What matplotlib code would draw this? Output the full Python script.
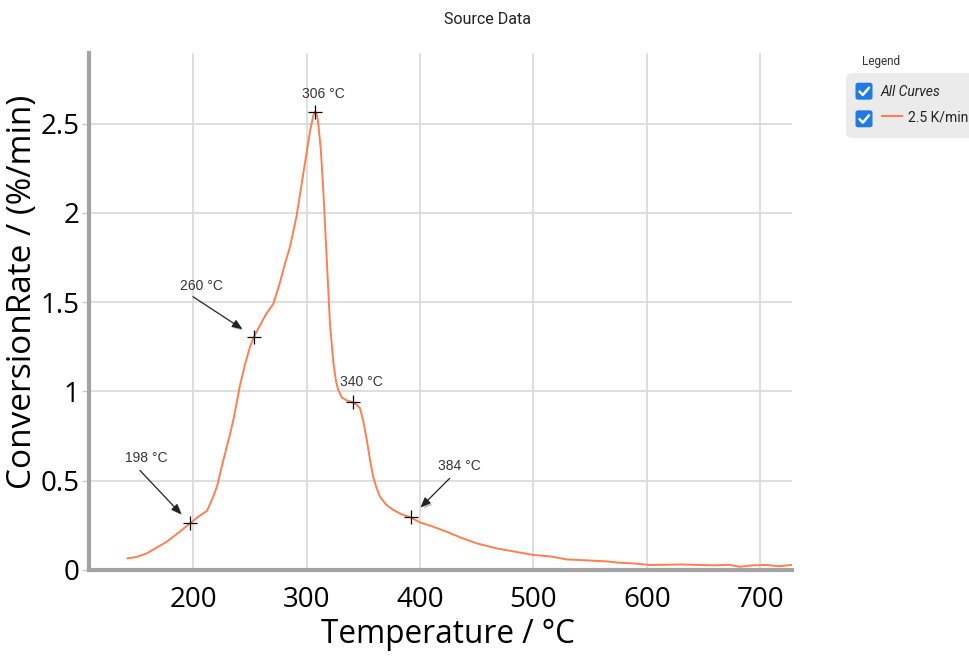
import matplotlib
matplotlib.use('Agg')
import matplotlib.pyplot as plt
import matplotlib.patheffects as pe
from matplotlib.patches import FancyBboxPatch
from matplotlib.lines import Line2D

# curve
temp = [142, 150, 159, 165, 176.5, 188, 197, 205, 212, 217, 221, 226.5, 232.4, 236, 241, 246, 250, 253.5,
        258, 264, 270.5, 276, 281, 285.3, 291, 297, 303, 306, 307.3, 309, 310.2, 312.5, 314.6, 317.6,
        320.5, 323.5, 326, 328, 331, 335, 341, 344, 347, 350, 353, 356, 358.7, 361.5, 364.6, 370, 376.4,
        384, 391.7, 400, 410, 423.5, 436, 450, 467.5, 485, 500, 515, 529, 540, 552.5, 565, 575, 587.8,
        602.5, 615, 630, 646.7, 660, 672, 682, 693, 705.6, 716, 727.7]
rate = [0.064, 0.072, 0.092, 0.115, 0.157, 0.213, 0.26, 0.30, 0.33, 0.40, 0.47, 0.615, 0.76, 0.86, 1.03,
        1.16, 1.25, 1.306, 1.36, 1.43, 1.49, 1.60, 1.72, 1.81, 1.98, 2.22, 2.46, 2.55, 2.566, 2.55, 2.50,
        2.35, 2.13, 1.75, 1.38, 1.16, 1.05, 1.005, 0.965, 0.95, 0.938, 0.925, 0.905, 0.83, 0.727, 0.61,
        0.52, 0.46, 0.41, 0.365, 0.335, 0.31, 0.294, 0.265, 0.245, 0.213, 0.18, 0.148, 0.12, 0.10, 0.083,
        0.075, 0.058, 0.055, 0.051, 0.047, 0.04, 0.036, 0.027, 0.028, 0.03, 0.027, 0.025, 0.028, 0.017,
        0.025, 0.027, 0.02, 0.027]

mark_t = [197, 253.5, 307.3, 341, 391.7]
mark_y = [0.26, 1.306, 2.566, 0.938, 0.294]
mark_labels = ['198 °C', '260 °C', '306 °C', '340 °C', '384 °C']
# text offset, arrow start offset (pixels), arrow end gap (points)
text_off = [(-44, 65), (-53, 51), (8, 18), (8, 20), (49, 51)]
arrow_off = [(-50, 53), (-61, 40), None, None, (39, 39)]
arrow_gap = [9, 10, 0, 0, 10]

xticks = [200, 300, 400, 500, 600, 700]
yticks = [0, 0.5, 1, 1.5, 2, 2.5]
ytick_labels = ['0', '0.5', '1', '1.5', '2', '2.5']

W, H = 969, 656
line_color = '#ff7f50'
spine_color = '#a3a3a3'

fig = plt.figure(figsize=(W / 100, H / 100), dpi=100)
ax = fig.add_axes([89 / W, 1 - 569.8 / H, (792 - 89) / W, (569.8 - 52.7) / H])

ax.plot(temp, rate, color=line_color, lw=1.4, zorder=3)
ax.plot(mark_t, mark_y, ls='none', marker='+', ms=10, mew=0.9, color='black', zorder=4)

for i in range(len(mark_t)):
    ax.annotate(mark_labels[i], xy=(mark_t[i], mark_y[i]), xytext=text_off[i],
                textcoords='offset pixels', ha='center', va='center',
                fontsize=10, color='#333333', family='Liberation Sans', zorder=5)
    if arrow_off[i] is not None:
        ax.annotate('', xy=(mark_t[i], mark_y[i]), xytext=arrow_off[i],
                    textcoords='offset pixels',
                    arrowprops=dict(arrowstyle='-|>,head_length=0.6,head_width=0.25', color='#222222',
                                    lw=0.9, shrinkA=0, shrinkB=arrow_gap[i],
                                    path_effects=[pe.SimplePatchShadow(offset=(1.5, -1.5), alpha=0.25),
                                                  pe.Normal()]),
                    zorder=5)

ax.set_xlim(108, 728)
ax.set_ylim(0, 2.897)
ax.set_xticks(xticks)
ax.set_yticks(yticks)
ax.set_yticklabels(ytick_labels)
ax.grid(True, color='#d9d9d9', lw=1.2)
ax.set_axisbelow(True)

for s in ['top', 'right']:
    ax.spines[s].set_visible(False)
for s in ['left', 'bottom']:
    ax.spines[s].set_color(spine_color)
    ax.spines[s].set_linewidth(3)
ax.tick_params(axis='x', length=0, pad=12, labelsize=20)
ax.tick_params(axis='y', length=5, width=1, color='#c8c8c8', pad=2, labelsize=20)
for lab in ax.get_xticklabels() + ax.get_yticklabels():
    lab.set_family('Open Sans')

ax.set_xlabel('Temperature / °C', fontsize=22.7, family='Open Sans', va='center')
ax.set_ylabel('ConversionRate / (%/min)', fontsize=24, family='Open Sans', va='center')
ax.xaxis.set_label_coords(0.511, -0.126)
ax.yaxis.set_label_coords(-0.094, 0.537)

fig.text(488 / W, 1 - 19 / H, 'Source Data', ha='center', va='center', fontsize=11.5,
         family='Roboto', color='#222222')


def px(x, y):
    return (x / W, 1 - y / H)


# legend panel
fig.text(*px(862, 61), 'Legend', ha='left', va='center', fontsize=8.5, family='Roboto', color='#333333')
fig.patches.append(FancyBboxPatch(px(846, 138), 140 / W, 65 / H, boxstyle='round,pad=0,rounding_size=0.008',
                                  transform=fig.transFigure, facecolor='#ebebeb', edgecolor='none'))
for cy in [91.2, 118.8]:
    fig.patches.append(FancyBboxPatch(px(855.5, cy + 8.5), 17 / W, 17 / H,
                                      boxstyle='round,pad=0,rounding_size=0.003',
                                      transform=fig.transFigure, facecolor='#1f7ae6', edgecolor='none'))
    xs = [859.5, 862.8, 869]
    ys = [cy + 0.3, cy + 3.8, cy - 3.5]
    fig.add_artist(Line2D([x / W for x in xs], [1 - y / H for y in ys], color='white', lw=1.8,
                          transform=fig.transFigure, solid_capstyle='round', solid_joinstyle='round'))
fig.text(*px(880.5, 92), 'All Curves', ha='left', va='center', fontsize=10, style='italic',
         family='Roboto', color='#222222')
fig.add_artist(Line2D([882 / W, 902 / W], [1 - 116 / H, 1 - 116 / H], color=line_color, lw=1.5,
                      transform=fig.transFigure))
fig.text(*px(907.5, 117), '2.5 K/min', ha='left', va='center', fontsize=10, family='Roboto', color='#222222')

fig.savefig('out.png', dpi=100)
